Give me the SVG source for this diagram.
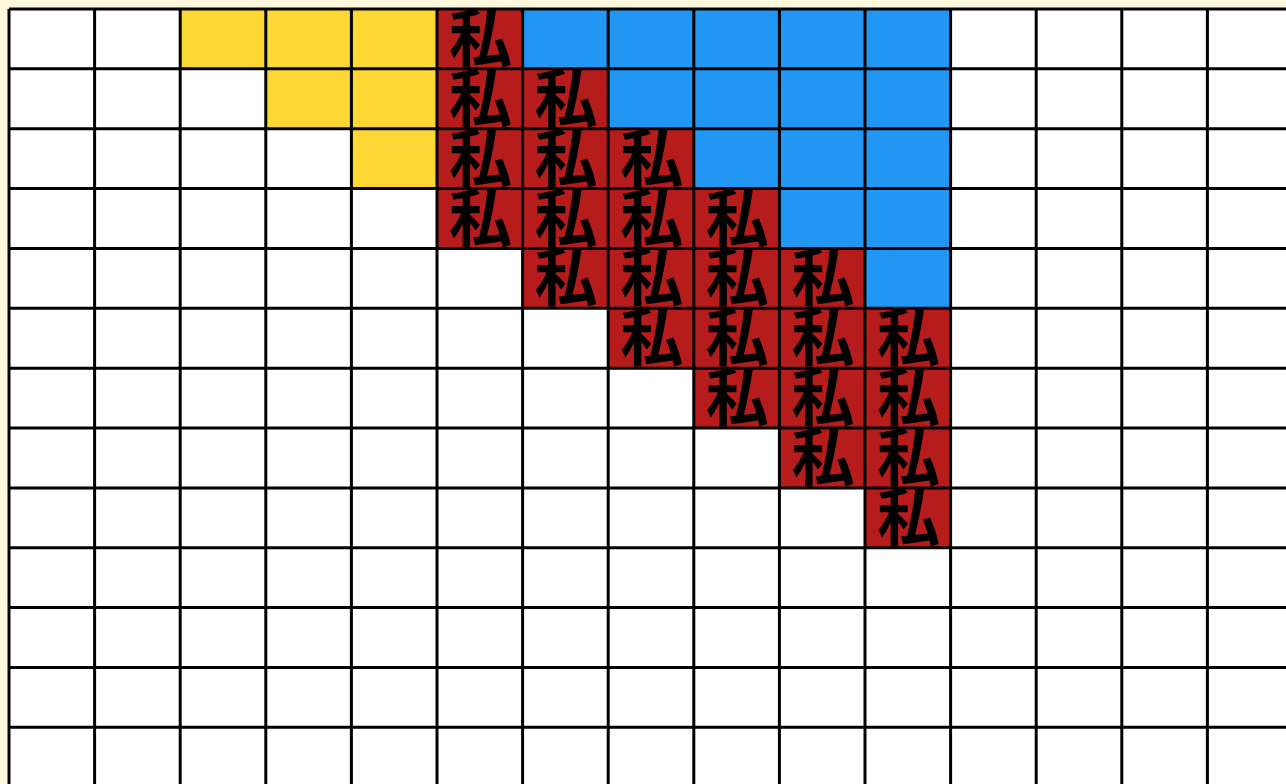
<svg xmlns="http://www.w3.org/2000/svg" width="1286" height="784" viewBox="0 0 1286 784">
<style>
.y{fill:#FDD835}
.b{fill:#2196F3}
.r{fill:#B71C1C}
.t{font-family:"Noto Sans CJK JP","Noto Sans CJK SC",sans-serif;font-weight:700;font-size:63px;fill:#000;text-anchor:middle}
.g{fill:none;stroke:#000;stroke-width:3}
</style>
<rect x="0" y="0" width="1286" height="784" fill="#FFF8DC"/>
<rect x="9" y="9" width="1290" height="780" fill="#FFFFFF"/>
<g id="yellow">
<rect class="y" x="180.2" y="9" width="256.8" height="59.86"/>
<rect class="y" x="265.8" y="68.86" width="171.2" height="59.86"/>
<rect class="y" x="351.4" y="128.72" width="85.6" height="59.86"/>
</g>
<g id="blue">
<rect class="b" x="522.6" y="9" width="428" height="59.86"/>
<rect class="b" x="608.2" y="68.86" width="342.4" height="59.86"/>
<rect class="b" x="693.8" y="128.72" width="256.8" height="59.86"/>
<rect class="b" x="779.4" y="188.58" width="171.2" height="59.86"/>
<rect class="b" x="865" y="248.44" width="85.6" height="59.86"/>
</g>
<g id="red">
<rect class="r" x="437" y="9" width="85.6" height="59.86"/>
<rect class="r" x="437" y="68.86" width="171.2" height="59.86"/>
<rect class="r" x="437" y="128.72" width="256.8" height="59.86"/>
<rect class="r" x="437" y="188.58" width="342.4" height="59.86"/>
<rect class="r" x="522.6" y="248.44" width="342.4" height="59.86"/>
<rect class="r" x="608.2" y="308.3" width="342.4" height="59.86"/>
<rect class="r" x="693.8" y="368.16" width="256.8" height="59.86"/>
<rect class="r" x="779.4" y="428.02" width="171.2" height="59.86"/>
<rect class="r" x="865" y="487.88" width="85.6" height="59.86"/>
</g>
<g id="grid">
<path class="g" d="M9 9V787M94.6 9V787M180.2 9V787M265.8 9V787M351.4 9V787M437 9V787M522.6 9V787M608.2 9V787M693.8 9V787M779.4 9V787M865 9V787M950.6 9V787M1036.2 9V787M1121.8 9V787M1207.4 9V787M1293 9V787"/>
<path class="g" d="M9 9H1293M9 68.86H1293M9 128.72H1293M9 188.58H1293M9 248.44H1293M9 308.3H1293M9 368.16H1293M9 428.02H1293M9 487.88H1293M9 547.74H1293M9 607.6H1293M9 667.46H1293M9 727.32H1293M9 787.18H1293"/>
</g>
<g id="labels">
<text class="t" x="480.5" y="61">私</text>
<text class="t" x="480.5" y="120.86">私</text><text class="t" x="566.1" y="120.86">私</text>
<text class="t" x="480.5" y="180.72">私</text><text class="t" x="566.1" y="180.72">私</text><text class="t" x="651.7" y="180.72">私</text>
<text class="t" x="480.5" y="240.58">私</text><text class="t" x="566.1" y="240.58">私</text><text class="t" x="651.7" y="240.58">私</text><text class="t" x="737.3" y="240.58">私</text>
<text class="t" x="566.1" y="300.44">私</text><text class="t" x="651.7" y="300.44">私</text><text class="t" x="737.3" y="300.44">私</text><text class="t" x="822.9" y="300.44">私</text>
<text class="t" x="651.7" y="360.3">私</text><text class="t" x="737.3" y="360.3">私</text><text class="t" x="822.9" y="360.3">私</text><text class="t" x="908.5" y="360.3">私</text>
<text class="t" x="737.3" y="420.16">私</text><text class="t" x="822.9" y="420.16">私</text><text class="t" x="908.5" y="420.16">私</text>
<text class="t" x="822.9" y="480.02">私</text><text class="t" x="908.5" y="480.02">私</text>
<text class="t" x="908.5" y="539.88">私</text>
</g>
</svg>
